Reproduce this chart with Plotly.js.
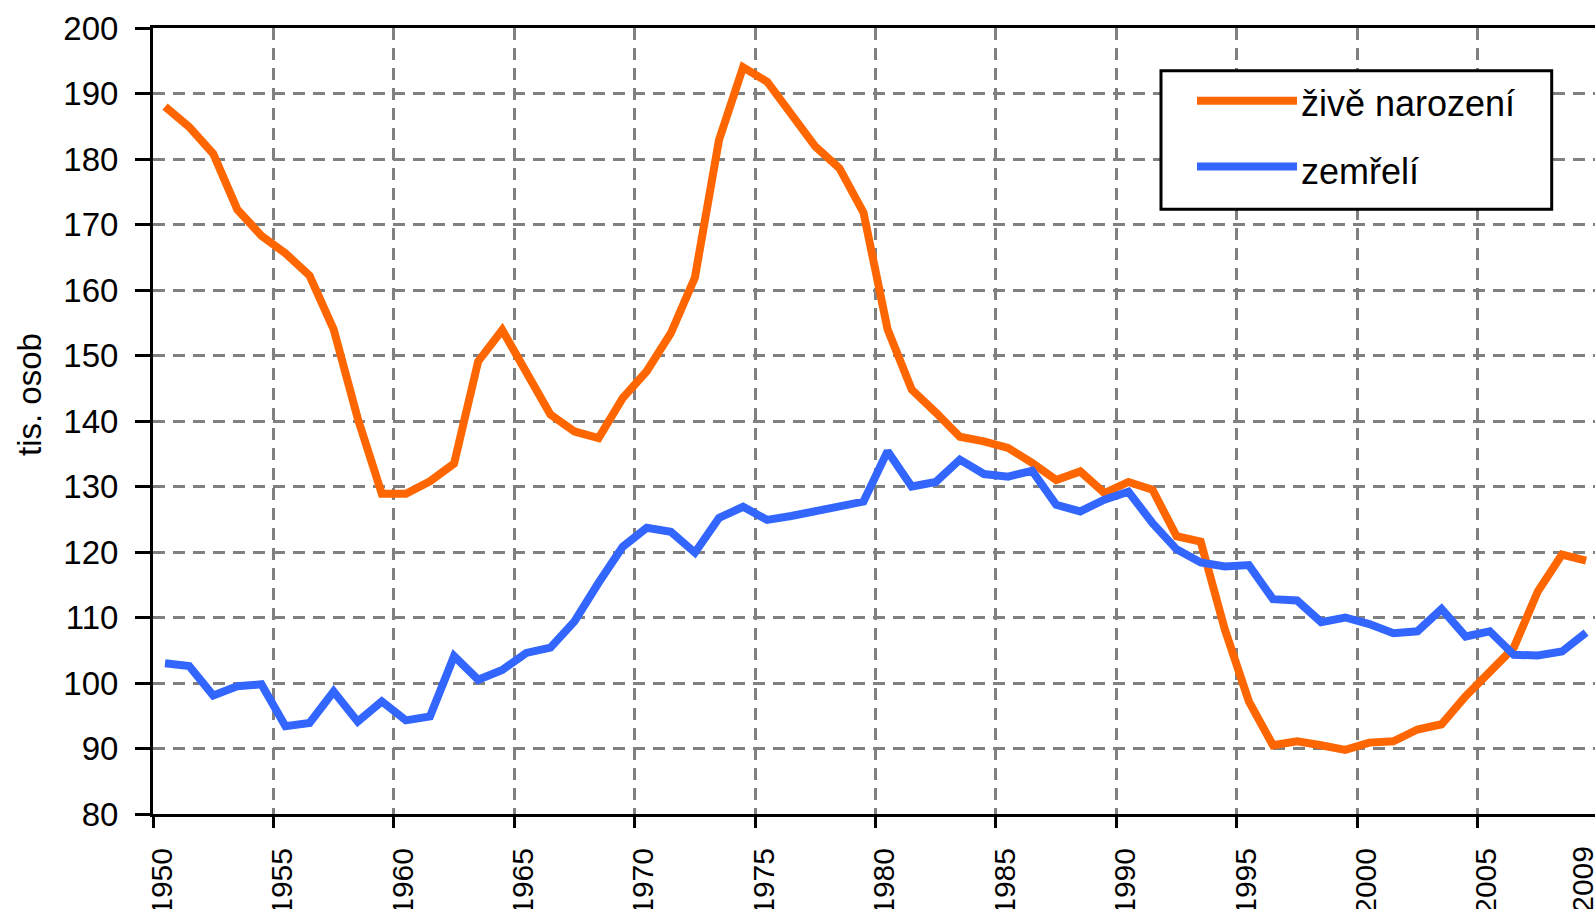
<!DOCTYPE html>
<html><head><meta charset="utf-8">
<script src="https://cdn.plot.ly/plotly-3.0.1.min.js"></script>
<style>html,body{margin:0;padding:0;background:#fff}#chart{width:1595px;height:909px}</style>
</head><body><div id="chart"></div>
<script>
// ---- data (thousands of persons) ----
const years = [1950,1951,1952,1953,1954,1955,1956,1957,1958,1959,
               1960,1961,1962,1963,1964,1965,1966,1967,1968,1969,
               1970,1971,1972,1973,1974,1975,1976,1977,1978,1979,
               1980,1981,1982,1983,1984,1985,1986,1987,1988,1989,
               1990,1991,1992,1993,1994,1995,1996,1997,1998,1999,
               2000,2001,2002,2003,2004,2005,2006,2007,2008,2009];
const births = [188.0,184.9,180.8,172.3,168.3,165.6,162.2,154.0,140.4,128.9,
                128.9,130.8,133.5,149.1,153.9,147.4,141.0,138.4,137.4,143.5,
                147.6,153.4,161.9,182.9,194.0,191.8,186.7,181.9,178.6,171.8,
                154.0,144.8,141.3,137.6,136.9,135.9,133.6,131.0,132.3,129.0,
                130.7,129.5,122.4,121.6,108.2,97.2,90.5,91.1,90.5,89.8,
                90.9,91.1,92.9,93.7,98.0,101.5,105.4,114.0,119.6,118.7];
const deaths = [103.0,102.6,98.1,99.5,99.8,93.4,93.9,98.7,94.1,97.2,
                94.3,94.9,104.1,100.5,102.0,104.6,105.4,109.4,115.3,120.8,
                123.7,123.1,119.9,125.2,126.9,124.9,125.5,126.3,127.2,127.7,
                135.4,130.0,130.7,134.1,131.9,131.5,132.4,127.2,126.2,128.0,
                129.2,124.4,120.4,118.4,117.8,118.0,112.8,112.6,109.3,110.0,
                109.0,107.6,107.9,111.3,107.1,107.9,104.3,104.2,104.8,107.7];
const seriesNames = ['živě narození', 'zemřelí'];
const seriesColors = ['#FF6600', '#3366FF'];
const tickYears = [1950,1955,1960,1965,1970,1975,1980,1985,1990,1995,2000,2005];
const tickLabels = ['1950','1955','1960','1965','1970','1975','1980','1985','1990','1995','2000','2005'];
const lastTickYear = 2009;
const lastTickLabel = '2009';
const yTickVals = [80,90,100,110,120,130,140,150,160,170,180,190,200];
const yTitle = 'tis. osob';

// ---- layout geometry ----
const W = 1595, H = 909;
const M = {l: 153, r: 0, t: 28, b: 95};
const pw = W - M.l - M.r, ph = H - M.t - M.b;
const pxPerYear = 24.085;
const xr = [1949.5, 1949.5 + pw / pxPerYear];
const toPX = x => (x - M.l) / pw;
const toPY = y => (H - M.b - y) / ph;

const FONT = 'Liberation Sans, Arial, sans-serif';
const gridStyle = {showgrid: true, gridcolor: '#808080', gridwidth: 3, griddash: '12px,8px'};

const traces = [
  {x: years, y: births, name: seriesNames[0], type: 'scatter', mode: 'lines',
   line: {color: seriesColors[0], width: 8}, hoverinfo: 'x+y'},
  {x: years, y: deaths, name: seriesNames[1], type: 'scatter', mode: 'lines',
   line: {color: seriesColors[1], width: 8}, hoverinfo: 'x+y'},
  // invisible helper trace so the overlay axis (last label) is drawn
  {x: years, y: deaths, xaxis: 'x2', type: 'scatter', mode: 'lines',
   line: {color: 'rgba(0,0,0,0)', width: 0}, showlegend: false, hoverinfo: 'skip'}
];

const xCommon = {
  type: 'linear', range: xr, tickmode: 'array',
  ticks: 'outside', ticklen: 11, tickwidth: 3, tickangle: -90,
  tickfont: {size: 30, color: '#000', family: FONT},
  ticklabelshift: 9, ticklabelstandoff: 8, ticklabeloverflow: 'allow',
  zeroline: false, fixedrange: true
};

// manual legend (box, line samples, texts)
const lg = {x0: 1161, x1: 1551.7, y0: 70.7, y1: 209.3, lx0: 1197, lx1: 1297, tx: 1300,
            rows: [100.7, 166.5], trow: [103, 171]};
const shapes = [
  {type: 'rect', xref: 'paper', yref: 'paper', x0: toPX(lg.x0), x1: toPX(lg.x1),
   y0: toPY(lg.y1), y1: toPY(lg.y0), line: {color: '#000', width: 3}, fillcolor: '#fff', layer: 'above'}
];
const annotations = [
  {xref: 'paper', yref: 'paper', x: toPX(29), y: toPY(395), text: yTitle, textangle: -90,
   showarrow: false, xanchor: 'center', yanchor: 'middle', font: {size: 33, color: '#000', family: FONT}}
];
seriesNames.forEach((nm, i) => {
  shapes.push({type: 'line', xref: 'paper', yref: 'paper', x0: toPX(lg.lx0), x1: toPX(lg.lx1),
    y0: toPY(lg.rows[i]), y1: toPY(lg.rows[i]), line: {color: seriesColors[i], width: 8}, layer: 'above'});
  annotations.push({xref: 'paper', yref: 'paper', x: toPX(lg.tx), y: toPY(lg.trow[i]), text: nm,
    showarrow: false, xanchor: 'left', yanchor: 'middle', borderpad: 0,
    font: {size: 36, color: '#000', family: FONT}});
});

const layout = {
  width: W, height: H, margin: M,
  paper_bgcolor: '#fff', plot_bgcolor: '#fff',
  font: {family: FONT, color: '#000'},
  showlegend: false,
  xaxis: Object.assign({}, xCommon, gridStyle, {
    tickvals: tickYears.map(y => y - 0.5), ticktext: tickLabels, tickcolor: '#000',
    showline: true, linecolor: '#000', linewidth: 3, mirror: true
  }),
  xaxis2: Object.assign({}, xCommon, {
    overlaying: 'x', anchor: 'y', side: 'bottom',
    tickvals: [lastTickYear - 0.5], ticktext: [lastTickLabel], tickcolor: 'rgba(0,0,0,0)',
    showgrid: false, showline: false
  }),
  yaxis: Object.assign({}, gridStyle, {
    range: [80, 200], tickmode: 'array', tickvals: yTickVals,
    ticks: 'outside', ticklen: 15, tickwidth: 3, tickcolor: '#000',
    tickfont: {size: 33, color: '#000', family: FONT},
    ticklabelstandoff: 10, ticklabeloverflow: 'allow',
    showline: true, linecolor: '#000', linewidth: 3,
    zeroline: false, fixedrange: true
  }),
  shapes: shapes,
  annotations: annotations
};

Plotly.newPlot('chart', traces, layout, {displayModeBar: false, staticPlot: true});
</script>
</body></html>
